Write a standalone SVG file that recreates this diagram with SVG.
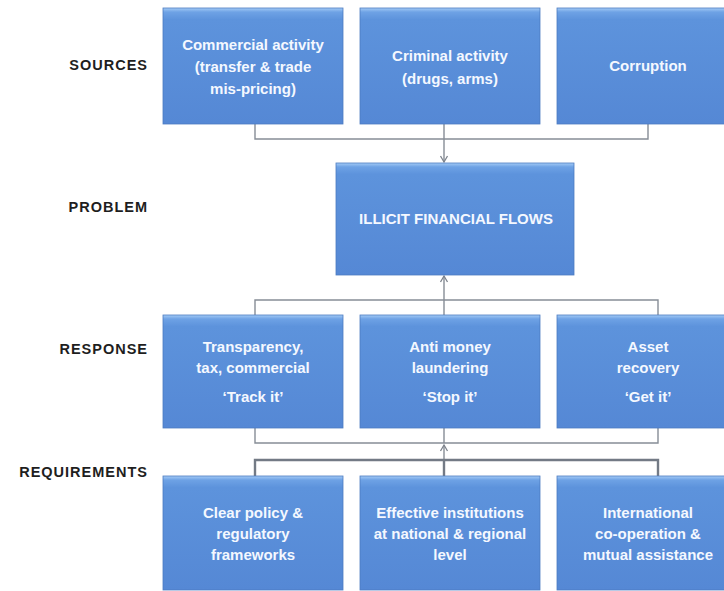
<svg xmlns="http://www.w3.org/2000/svg" width="724" height="591" viewBox="0 0 724 591">
<defs>
<linearGradient id="bx" x1="0" y1="0" x2="0" y2="1">
<stop offset="0" stop-color="#a4cbf6"/>
<stop offset="0.035" stop-color="#6ea2e5"/>
<stop offset="0.1" stop-color="#5d93dc"/>
<stop offset="1" stop-color="#5588d5"/>
</linearGradient>
<marker id="ah" markerWidth="10" markerHeight="10" refX="8" refY="5" orient="auto" markerUnits="userSpaceOnUse">
<polyline points="2,1.5 8,5 2,8.5" fill="none" stroke="#7d838c" stroke-width="1.3"/>
</marker>
</defs>
<style>
.box{fill:url(#bx);stroke:#4d7cc0;stroke-width:0.8}
.t{font-family:"Liberation Sans",Arial,sans-serif;font-size:15px;font-weight:bold;fill:#f4f8ff;text-anchor:middle}
.lab{font-family:"Liberation Sans",Arial,sans-serif;font-size:14.5px;font-weight:bold;fill:#1e1e1e;text-anchor:end;letter-spacing:1px}
.c{fill:none;stroke:#878d96;stroke-width:1.4}
.ct{fill:none;stroke:#737a85;stroke-width:2.4}
</style>
<rect width="724" height="591" fill="#ffffff"/>
<g id="labels">
<text class="lab" x="148" y="70">SOURCES</text>
<text class="lab" x="148" y="212">PROBLEM</text>
<text class="lab" x="148" y="354">RESPONSE</text>
<text class="lab" x="148" y="477">REQUIREMENTS</text>
</g>
<g id="connectors">
<path class="c" d="M255,124 V139 H648 V124 M444,124 V139"/>
<path class="c" d="M444,139 V162" marker-end="url(#ah)"/>
<path class="c" d="M255,315 V300 H658 V315 M444,315 V300"/>
<path class="c" d="M444,300 V276" marker-end="url(#ah)"/>
<path class="c" d="M255,428 V443 H658 V428 M444,428 V443"/>
<path class="c" d="M444,460 V445" marker-end="url(#ah)"/>
<path class="ct" d="M255,476 V460 H658 V476 M444,476 V460"/>
</g>
<g id="src-commercial">
<rect class="box" x="163" y="8" width="180" height="116"/>
<text class="t" x="253" y="50">Commercial activity</text>
<text class="t" x="253" y="72">(transfer &amp; trade</text>
<text class="t" x="253" y="94">mis-pricing)</text>
</g>
<g id="src-criminal">
<rect class="box" x="360" y="8" width="180" height="116"/>
<text class="t" x="450" y="61">Criminal activity</text>
<text class="t" x="450" y="84">(drugs, arms)</text>
</g>
<g id="src-corruption">
<rect class="box" x="557" y="8" width="182" height="116"/>
<text class="t" x="648" y="71">Corruption</text>
</g>
<g id="problem">
<rect class="box" x="336" y="163" width="238" height="112"/>
<text class="t" x="456" y="224">ILLICIT FINANCIAL  FLOWS</text>
</g>
<g id="resp-track">
<rect class="box" x="163" y="315" width="180" height="113"/>
<text class="t" x="253" y="352">Transparency,</text>
<text class="t" x="253" y="373">tax, commercial</text>
<text class="t" x="253" y="402">‘Track it’</text>
</g>
<g id="resp-stop">
<rect class="box" x="360" y="315" width="180" height="113"/>
<text class="t" x="450" y="352">Anti money</text>
<text class="t" x="450" y="373">laundering</text>
<text class="t" x="450" y="402">‘Stop it’</text>
</g>
<g id="resp-get">
<rect class="box" x="557" y="315" width="182" height="113"/>
<text class="t" x="648" y="352">Asset</text>
<text class="t" x="648" y="373">recovery</text>
<text class="t" x="648" y="402">‘Get it’</text>
</g>
<g id="req-policy">
<rect class="box" x="163" y="476" width="180" height="114"/>
<text class="t" x="253" y="518">Clear policy &amp;</text>
<text class="t" x="253" y="539">regulatory</text>
<text class="t" x="253" y="560">frameworks</text>
</g>
<g id="req-institutions">
<rect class="box" x="360" y="476" width="180" height="114"/>
<text class="t" x="450" y="518">Effective institutions</text>
<text class="t" x="450" y="539">at national &amp; regional</text>
<text class="t" x="450" y="560">level</text>
</g>
<g id="req-intl">
<rect class="box" x="557" y="476" width="182" height="114"/>
<text class="t" x="648" y="518">International</text>
<text class="t" x="648" y="539">co-operation &amp;</text>
<text class="t" x="648" y="560">mutual assistance</text>
</g>
</svg>
